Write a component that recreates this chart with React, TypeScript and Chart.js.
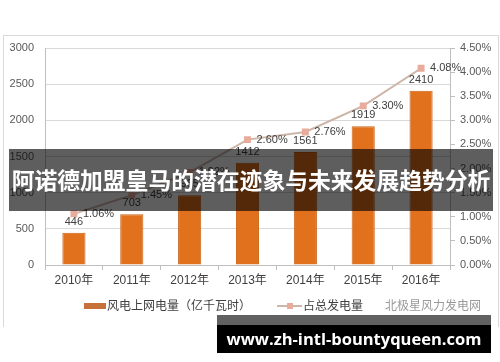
import React, { useEffect, useRef } from "react";
import { Chart, registerables } from "chart.js";
Chart.register(...registerables);

const years = ["2010年", "2011年", "2012年", "2013年", "2014年", "2015年", "2016年"];
const windPower = [446, 703, 965, 1412, 1561, 1919, 2410];
const shareOfTotal = [1.06, 1.45, 1.92, 2.6, 2.76, 3.3, 4.08];
const barLegend = "风电上网电量（亿千瓦时）";
const lineLegend = "占总发电量";
const watermark = "北极星风力发电网";
const title = "阿诺德加盟皇马的潜在迹象与未来发展趋势分析";
const site = "www.zh-intl-bountyqueen.com";

const BAR_COLOR = "#E2711D";
const LINE_COLOR = "#CDB5A8";
const MARK_COLOR = "#E8AC9C";
const TEXT = "#404040";
const FONT = "'Liberation Sans', 'Noto Sans CJK SC', sans-serif";
const CJK = "'Noto Sans CJK SC', sans-serif";

const labelPlugin = {
  id: "valueLabels",
  afterDatasetsDraw(chart: any) {
    const ctx = chart.ctx;
    ctx.save();
    ctx.font = "11px " + FONT;
    ctx.fillStyle = TEXT;
    ctx.textBaseline = "middle";
    chart.getDatasetMeta(0).data.forEach((el: any, i: number) => {
      ctx.textAlign = "center";
      ctx.fillText(String(windPower[i]), el.x, el.y - 11);
    });
    chart.getDatasetMeta(1).data.forEach((el: any, i: number) => {
      ctx.textAlign = "left";
      ctx.fillText(shareOfTotal[i].toFixed(2) + "%", el.x + 9, el.y);
    });
    ctx.restore();
  },
};

export default function App() {
  const ref = useRef<HTMLCanvasElement>(null);
  useEffect(() => {
    const chart = new Chart(ref.current!, {
      type: "bar",
      data: {
        labels: years,
        datasets: [
          {
            type: "bar",
            label: barLegend,
            data: windPower,
            backgroundColor: BAR_COLOR,
            borderColor: "#C9631A",
            borderWidth: 1,
            barPercentage: 0.4,
            categoryPercentage: 1,
            yAxisID: "y",
            order: 1,
          },
          {
            type: "line",
            label: lineLegend,
            data: shareOfTotal,
            borderColor: LINE_COLOR,
            borderWidth: 2,
            pointStyle: "rect",
            pointRadius: 3.5,
            pointBackgroundColor: MARK_COLOR,
            pointBorderColor: MARK_COLOR,
            yAxisID: "y1",
            order: 0,
          } as any,
        ],
      },
      options: {
        responsive: false,
        animation: false,
        layout: { padding: { top: 48, bottom: 67, left: 0, right: 0 } },
        plugins: { legend: { display: false }, tooltip: { enabled: false } },
        scales: {
          x: {
            grid: { drawOnChartArea: false, drawTicks: true, tickLength: 5, color: "#BFBFBF", offset: true },
            border: { color: "#BFBFBF" },
            ticks: { color: TEXT, font: { family: FONT, size: 12 }, padding: 3 },
            afterFit: (s: any) => { s.height = 30; },
          },
          y: {
            position: "left",
            min: 0,
            max: 3000,
            ticks: {
              stepSize: 500,
              color: "#595959",
              font: { family: FONT, size: 11 },
              padding: 11,
              callback: (v: any) => String(v),
            },
            grid: { color: "#D9D9D9", drawTicks: false },
            border: { color: "#BFBFBF" },
            afterFit: (s: any) => { s.width = 45; },
          },
          y1: {
            position: "right",
            min: 0,
            max: 4.5,
            ticks: {
              stepSize: 0.5,
              color: "#595959",
              font: { family: FONT, size: 11 },
              padding: 5,
              callback: (v: any) => Number(v).toFixed(2) + "%",
            },
            grid: { drawOnChartArea: false, drawTicks: true, tickLength: 5, color: "#BFBFBF" },
            border: { color: "#BFBFBF" },
            afterFit: (s: any) => { s.width = 50; },
          },
        },
      },
      plugins: [labelPlugin],
    });
    return () => chart.destroy();
  }, []);

  return (
    <div style={{ position: "fixed", left: 0, top: 0, width: 500, height: 362, background: "#fff", overflow: "hidden" }}>
      <div style={{ position: "absolute", left: 3, top: 35, width: 494, height: 291, borderTop: "1px solid #D9D9D9", borderLeft: "1px solid #D9D9D9", borderRight: "1px solid #D9D9D9" }} />
      <canvas ref={ref} width={500} height={362} style={{ position: "absolute", left: 0, top: 0, width: 500, height: 362 }} />
      {/* legend */}
      <div style={{ position: "absolute", left: 84, top: 303, width: 22, height: 6, background: "#C8703A" }} />
      <div style={{ position: "absolute", left: 107, top: 296, font: "12px " + CJK, color: TEXT, lineHeight: "18px", whiteSpace: "nowrap" }}>{barLegend}</div>
      <div style={{ position: "absolute", left: 277, top: 305, width: 25, height: 2, background: LINE_COLOR }} />
      <div style={{ position: "absolute", left: 287, top: 303, width: 6, height: 6, background: MARK_COLOR }} />
      <div style={{ position: "absolute", left: 303, top: 296, font: "12px " + CJK, color: TEXT, lineHeight: "18px", whiteSpace: "nowrap" }}>{lineLegend}</div>
      <div style={{ position: "absolute", left: 385, top: 296, font: "12px " + CJK, color: "#9A9A9A", lineHeight: "18px", whiteSpace: "nowrap" }}>{watermark}</div>
      {/* title band */}
      <div style={{ position: "absolute", left: 9, top: 149, width: 484, height: 62, background: "rgba(0,0,0,0.63)", display: "flex", alignItems: "center", justifyContent: "center" }}>
        <span style={{ font: "bold 22.8px " + CJK, color: "#fff", whiteSpace: "nowrap", lineHeight: "30px" }}>{title}</span>
      </div>
      {/* site band */}
      <div style={{ position: "absolute", left: 217, top: 315, width: 274, height: 38, background: "linear-gradient(to bottom, rgba(0,0,0,0.62) 0px, rgba(0,0,0,0.62) 10px, #000 10px)" }}>
        <div style={{ position: "absolute", left: 0, right: 0, top: 12, textAlign: "center", font: "bold 16.5px 'Open Sans', sans-serif", color: "#fff", lineHeight: "24px", whiteSpace: "nowrap" }}>{site}</div>
      </div>
    </div>
  );
}
